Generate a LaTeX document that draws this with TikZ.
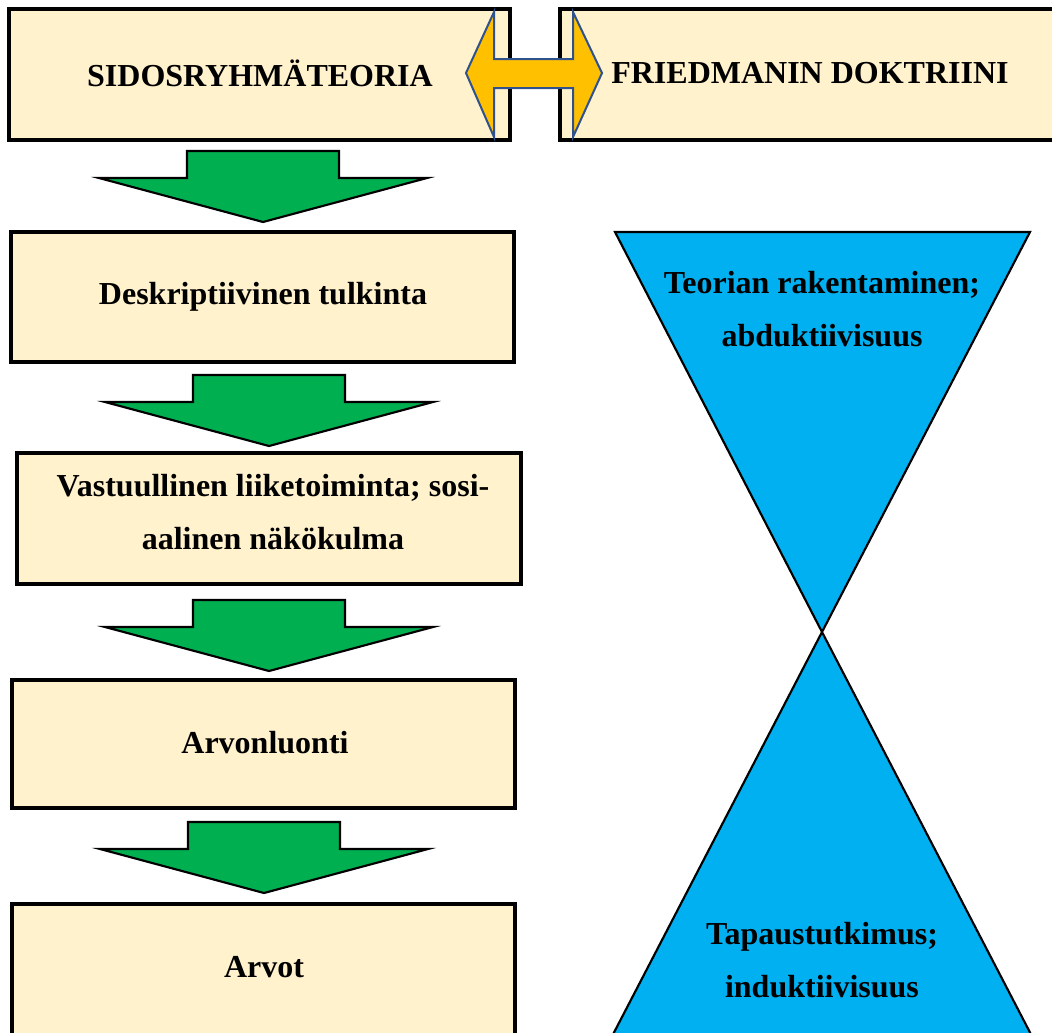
\documentclass[tikz,border=0pt]{standalone}
\usepackage{fontspec}
\setmainfont{Liberation Serif}
\begin{document}
\definecolor{boxfill}{HTML}{FFF2CC}
\definecolor{arrowgreen}{HTML}{00B050}
\definecolor{funnelblue}{HTML}{00B0F0}
\definecolor{arrowgold}{HTML}{FFC000}
\definecolor{arrowedge}{RGB}{47,82,143}
\begin{tikzpicture}[x=0.75pt,y=-0.75pt,
  stagebox/.style={draw=black,line width=2.8pt,fill=boxfill},
  lbl/.style={font=\fontsize{24}{40}\selectfont\bfseries,align=center,inner sep=0pt},
  downarrow/.pic={
    \draw[fill=arrowgreen,draw=black,line width=1.6pt,line join=miter]
      (-76,0) -- (76,0) -- (76,27) -- (164,27) -- (0,71) -- (-164,27) -- (-76,27) -- cycle;
  }]
\useasboundingbox (0,0) rectangle (1052,1032);
\begin{scope}
\clip (0,0) rectangle (1052,1032);

% hourglass on the right
\draw[fill=funnelblue,line width=1.6pt,line join=miter]
  (615,232) -- (1030,232) -- (822,632) -- cycle;
\draw[fill=funnelblue,line width=1.6pt,line join=miter]
  (822,632) -- (1036,1044) -- (608,1044) -- cycle;

% stage boxes on the left
\draw[stagebox] (9,9) rectangle (510,140);
\draw[stagebox] (560,9) rectangle (1070,140);
\draw[stagebox] (11,232) rectangle (514,362);
\draw[stagebox] (17,453) rectangle (521,584);
\draw[stagebox] (12,680) rectangle (515,808);
\draw[stagebox] (12,904) rectangle (515,1060);

% green arrows between stages
\pic at (263,151) {downarrow};
\pic at (269,375) {downarrow};
\pic at (269,600) {downarrow};
\pic at (264,822) {downarrow};

% double-headed arrow between the two theories
\draw[fill=arrowgold,draw=arrowedge,line width=1.5pt,line join=miter]
  (466,73) -- (494,12) -- (494,59) -- (573,59) -- (573,12) -- (602,73)
  -- (573,137) -- (573,88) -- (494,88) -- (494,137) -- cycle;
\end{scope}

\node[lbl] (t1) at (260,73) {SIDOSRYHMÄTEORIA};
\node[lbl] (t2) at (810,73) {FRIEDMANIN DOKTRIINI};
\node[lbl] (s1) at (263,297) {Deskriptiivinen tulkinta};
\node[lbl] (s2) at (273,512) {Vastuullinen liiketoiminta; sosi-\\aalinen näkökulma};
\node[lbl] (s3) at (265,743) {Arvonluonti};
\node[lbl] (s4) at (264,967) {Arvot};
\node[lbl] (h1) at (822,309) {Teorian rakentaminen;\\abduktiivisuus};
\node[lbl] (h2) at (822,960) {Tapaustutkimus;\\induktiivisuus};
\end{tikzpicture}
\end{document}
